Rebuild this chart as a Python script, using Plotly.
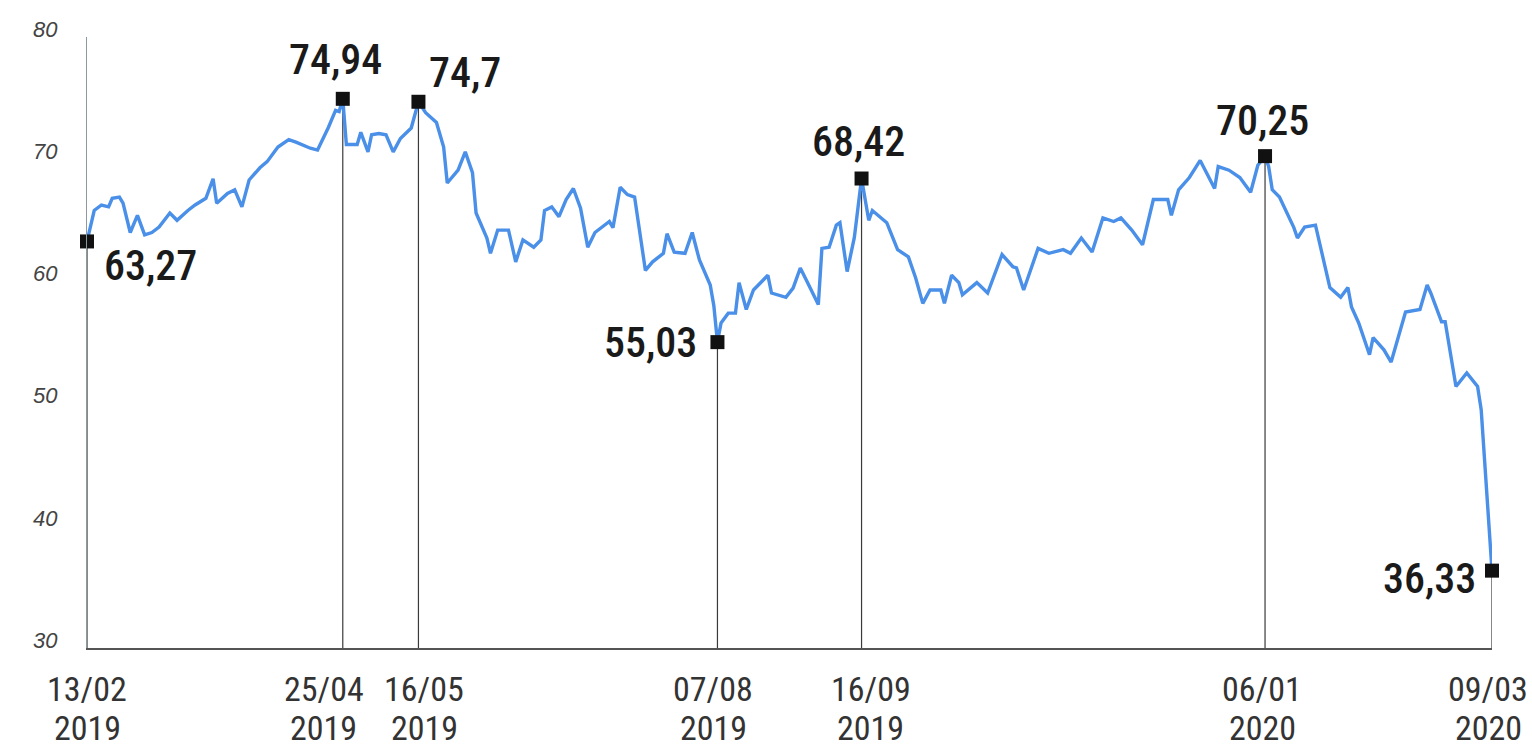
import plotly.graph_objects as go

# ---- data ----
dates = [
    "2019-02-13", "2019-02-15", "2019-02-17", "2019-02-19", "2019-02-20", "2019-02-22", "2019-02-23",
    "2019-02-25", "2019-02-27", "2019-03-01", "2019-03-03", "2019-03-05", "2019-03-08", "2019-03-10",
    "2019-03-13", "2019-03-15", "2019-03-18", "2019-03-20", "2019-03-21", "2019-03-24", "2019-03-26",
    "2019-03-28", "2019-03-30", "2019-04-02", "2019-04-04", "2019-04-07", "2019-04-10", "2019-04-12",
    "2019-04-16", "2019-04-18", "2019-04-21", "2019-04-23", "2019-04-24", "2019-04-25", "2019-04-26",
    "2019-04-29", "2019-04-30", "2019-05-02", "2019-05-03", "2019-05-05", "2019-05-07", "2019-05-09",
    "2019-05-11", "2019-05-14", "2019-05-16", "2019-05-18", "2019-05-21", "2019-05-23", "2019-05-24",
    "2019-05-27", "2019-05-29", "2019-05-31", "2019-06-01", "2019-06-04", "2019-06-05", "2019-06-07",
    "2019-06-10", "2019-06-12", "2019-06-14", "2019-06-17", "2019-06-19", "2019-06-20", "2019-06-22",
    "2019-06-24", "2019-06-26", "2019-06-28", "2019-06-30", "2019-07-02", "2019-07-04", "2019-07-06",
    "2019-07-08", "2019-07-09", "2019-07-11", "2019-07-13", "2019-07-15", "2019-07-18", "2019-07-20",
    "2019-07-23", "2019-07-24", "2019-07-26", "2019-07-29", "2019-07-31", "2019-08-02", "2019-08-05",
    "2019-08-06", "2019-08-07", "2019-08-08", "2019-08-10", "2019-08-12", "2019-08-13", "2019-08-15",
    "2019-08-17", "2019-08-19", "2019-08-21", "2019-08-22", "2019-08-26", "2019-08-28", "2019-08-30",
    "2019-09-01", "2019-09-04", "2019-09-05", "2019-09-07", "2019-09-09", "2019-09-10", "2019-09-12",
    "2019-09-14", "2019-09-16", "2019-09-18", "2019-09-19", "2019-09-21", "2019-09-23", "2019-09-26",
    "2019-09-29", "2019-10-01", "2019-10-03", "2019-10-05", "2019-10-08", "2019-10-09", "2019-10-11",
    "2019-10-13", "2019-10-14", "2019-10-18", "2019-10-21", "2019-10-25", "2019-10-28", "2019-10-29",
    "2019-10-31", "2019-11-04", "2019-11-07", "2019-11-11", "2019-11-13", "2019-11-16", "2019-11-19",
    "2019-11-22", "2019-11-25", "2019-11-27", "2019-11-30", "2019-12-03", "2019-12-05", "2019-12-06",
    "2019-12-10", "2019-12-11", "2019-12-13", "2019-12-16", "2019-12-19", "2019-12-21", "2019-12-23",
    "2019-12-24", "2019-12-27", "2019-12-30", "2020-01-02", "2020-01-04", "2020-01-06", "2020-01-07",
    "2020-01-08", "2020-01-10", "2020-01-12", "2020-01-14", "2020-01-15", "2020-01-17", "2020-01-20",
    "2020-01-22", "2020-01-24", "2020-01-27", "2020-01-29", "2020-01-30", "2020-02-01", "2020-02-04",
    "2020-02-05", "2020-02-08", "2020-02-10", "2020-02-14", "2020-02-18", "2020-02-20", "2020-02-21",
    "2020-02-24", "2020-02-25", "2020-02-28", "2020-03-02", "2020-03-05", "2020-03-06", "2020-03-09",
]
prices = [
    63.27, 65.8, 66.25, 66.1, 66.8, 66.9, 66.4,
    64.0, 65.4, 63.8, 64.0, 64.45, 65.6, 65.0,
    65.8, 66.25, 66.8, 68.4, 66.4, 67.2, 67.5,
    66.1, 68.3, 69.3, 69.8, 71.0, 71.6, 71.4,
    70.9, 70.75, 72.6, 74.0, 73.9, 74.94, 71.2,
    71.2, 72.2, 70.6, 72.0, 72.1, 72.0, 70.6,
    71.7, 72.55, 74.7, 73.8, 73.0, 71.0, 68.05,
    69.1, 70.6, 68.9, 65.6, 63.55, 62.3, 64.2,
    64.2, 61.6, 63.4, 62.8, 63.4, 65.8, 66.1,
    65.3, 66.7, 67.6, 66.0, 62.8, 64.0, 64.45,
    64.9, 64.4, 67.7, 67.1, 66.9, 60.9, 61.6,
    62.3, 63.9, 62.4, 62.3, 64.0, 61.75, 59.7,
    58.0, 55.03, 56.6, 57.4, 57.4, 59.9, 57.7,
    59.3, 59.9, 60.5, 59.05, 58.7, 59.45, 61.1,
    59.9, 58.1, 62.7, 62.8, 64.6, 64.8, 60.8,
    63.6, 68.42, 65.0, 65.8, 65.3, 64.8, 62.6,
    62.0, 60.3, 58.2, 59.3, 59.3, 58.2, 60.5,
    59.9, 58.9, 59.9, 59.05, 62.2, 61.2, 61.1,
    59.3, 62.7, 62.3, 62.6, 62.3, 63.55, 62.4,
    65.2, 64.9, 65.2, 64.2, 63.0, 65.3, 66.7,
    66.7, 65.4, 67.5, 68.5, 69.9, 68.7, 67.6,
    69.4, 69.1, 68.5, 67.3, 69.5, 70.25, 69.4,
    67.5, 66.9, 65.6, 64.4, 63.55, 64.45, 64.6,
    62.0, 59.5, 58.7, 59.5, 57.9, 56.6, 54.0,
    55.4, 54.4, 53.4, 57.5, 57.7, 59.7, 59.05,
    56.7, 56.7, 51.4, 52.5, 51.4, 49.5, 36.33,
]

marker_dates = ["2019-02-13", "2019-04-25", "2019-05-16", "2019-08-07",
                "2019-09-16", "2020-01-06", "2020-03-09"]
marker_values = [63.27, 74.94, 74.7, 55.03, 68.42, 70.25, 36.33]
marker_labels = ["63,27", "74,94", "74,7", "55,03", "68,42", "70,25", "36,33"]
tick_daymonth = ["13/02", "25/04", "16/05", "07/08", "16/09", "06/01", "09/03"]
tick_year = ["2019", "2019", "2019", "2019", "2019", "2020", "2020"]
y_ticks = [30, 40, 50, 60, 70, 80]
y_min, y_max = 30, 80

# ---- styles ----
LINE_BLUE = "#4a8fe8"
NARROW = "Noto Sans Condensed, Roboto Condensed, Liberation Sans Narrow, Roboto, sans-serif"
# value label placement per marker: (xanchor, yanchor, xshift, yshift)
placement = [
    ("left", "middle", 15, -24),
    ("center", "middle", -7, 39),
    ("left", "middle", 9, 29),
    ("right", "middle", -18, 0),
    ("center", "middle", -3, 37),
    ("center", "middle", -3, 36),
    ("right", "middle", -14, -8),
]
# horizontal nudges of the date labels (pixels)
date_nudge = [0, -19, 6, -4, 9, -3, -4]

fig = go.Figure()

# vertical drop lines from each marker to the baseline
vx, vy = [], []
for d, v in zip(marker_dates, marker_values):
    vx += [d, d, None]
    vy += [y_min, v, None]
fig.add_trace(go.Scatter(x=vx, y=vy, mode="lines",
                         line=dict(color="#3a3a3a", width=1.2),
                         hoverinfo="skip", showlegend=False))

fig.add_trace(go.Scatter(x=dates, y=prices, mode="lines",
                         line=dict(color=LINE_BLUE, width=3.4),
                         cliponaxis=False, showlegend=False))

fig.add_trace(go.Scatter(x=marker_dates, y=marker_values, mode="markers",
                         marker=dict(symbol="square", size=14, color="#111111"),
                         cliponaxis=False, showlegend=False))

for d, v, lab, (xa, ya, xs, ys) in zip(marker_dates, marker_values, marker_labels, placement):
    fig.add_annotation(x=d, y=v, text=lab, showarrow=False,
                       xanchor=xa, yanchor=ya, xshift=xs, yshift=ys,
                       font=dict(family=NARROW, size=42, color="#1a1a1a", weight=500))

# two-line date labels under the axis
for d, dm, yr, nx in zip(marker_dates, tick_daymonth, tick_year, date_nudge):
    fig.add_annotation(x=d, y=0, xref="x", yref="paper", text=dm, showarrow=False,
                       xanchor="center", yanchor="middle", xshift=nx, yshift=-41,
                       font=dict(family=NARROW, size=34, color="#333333"))
    fig.add_annotation(x=d, y=0, xref="x", yref="paper", text=yr, showarrow=False,
                       xanchor="center", yanchor="middle", xshift=nx, yshift=-80,
                       font=dict(family=NARROW, size=34, color="#333333"))

fig.update_layout(
    width=1532, height=752,
    margin=dict(l=87, r=40, t=37, b=104),
    paper_bgcolor="white", plot_bgcolor="white",
    xaxis=dict(
        type="date", range=[marker_dates[0], marker_dates[-1]],
        tickvals=marker_dates, showticklabels=False,
        showgrid=False, zeroline=False, automargin=False,
        showline=True, linecolor="#555555", linewidth=2, ticks="",
    ),
    yaxis=dict(
        range=[y_min, y_max], tickvals=y_ticks,
        showgrid=False, zeroline=False, automargin=False,
        showline=True, linecolor="#8a9aa0", linewidth=1,
        ticks="", ticklabelstandoff=24, ticklabelshift=-8,
        tickfont=dict(family="Liberation Sans, Arial, sans-serif", size=22,
                      color="#444444", style="italic"),
    ),
)

fig.write_html("out.html", config={"displayModeBar": False},
               post_script="document.body.style.margin='0';")
